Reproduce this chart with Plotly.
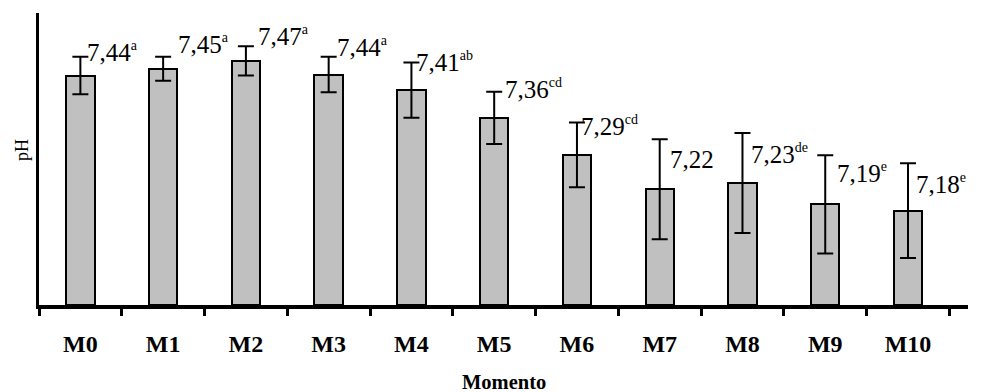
import plotly.graph_objects as go

categories = ["M0", "M1", "M2", "M3", "M4", "M5", "M6", "M7", "M8", "M9", "M10"]
ph_means = [7.440, 7.453, 7.468, 7.442, 7.412, 7.359, 7.288, 7.222, 7.234, 7.193, 7.181]
ph_sd = [0.036, 0.023, 0.028, 0.034, 0.053, 0.050, 0.062, 0.096, 0.096, 0.094, 0.091]
label_values = ["7,44", "7,45", "7,47", "7,44", "7,41", "7,36", "7,29", "7,22", "7,23", "7,19", "7,18"]
label_letters = ["a", "a", "a", "a", "ab", "cd", "cd", "", "de", "e", "e"]

# label placement (pixel offsets from top of error bar)
label_dx = [5, 13, 10, 6, 3, 9, 2, 8, 7, 10, 6]
label_dy = [5, 13, 10, 10, 1, 2.5, -3.7, -20.7, -21.3, -17.7, -21.2]

FONT = "Liberation Serif"

fig = go.Figure()
fig.add_trace(go.Bar(
    x=categories,
    y=[m - 7.0 for m in ph_means],
    base=7.0,
    width=0.343,
    marker=dict(color="#c0c0c0", line=dict(color="black", width=2)),
    error_y=dict(type="data", array=ph_sd, color="black", thickness=2, width=8),
    showlegend=False,
    hoverinfo="skip",
))

annotations = []
for c, m, s, v, l, dx, dy in zip(categories, ph_means, ph_sd, label_values, label_letters, label_dx, label_dy):
    txt = v + (f"<sup><span style='font-size:14px'>{l}</span></sup>" if l else "")
    annotations.append(dict(
        x=c, y=m + s, xref="x", yref="y", text=txt, showarrow=False,
        xanchor="left", yanchor="middle", xshift=dx, yshift=dy,
        font=dict(family=FONT, size=25, color="black"),
    ))

annotations.append(dict(
    x=0.5, y=-0.265, xref="paper", yref="paper", text="<b>Momento</b>",
    showarrow=False, xanchor="center", yanchor="middle",
    font=dict(family=FONT, size=20.5, color="black"),
))
annotations.append(dict(
    x=-0.0183, y=0.531, xref="paper", yref="paper", text="pH", textangle=-90,
    showarrow=False, xanchor="center", yanchor="middle",
    font=dict(family=FONT, size=18, color="black"),
))

fig.update_layout(
    width=984, height=392,
    margin=dict(l=39, r=16, t=13, b=87),
    paper_bgcolor="white", plot_bgcolor="white",
    annotations=annotations,
    bargap=0,
)
fig.update_xaxes(
    type="category", showline=True, linecolor="black", linewidth=4,
    ticks="outside", tickson="boundaries", ticklen=7, tickwidth=3, tickcolor="black",
    tickfont=dict(family=FONT, size=24, color="black"),
    ticklabelstandoff=14, showgrid=False, zeroline=False,
    tickprefix="<b>", ticksuffix="</b>",
)
fig.update_yaxes(
    range=[7.0, 7.56], showline=True, linecolor="black", linewidth=2.5,
    showticklabels=False, ticks="", showgrid=False, zeroline=False,
)

fig.write_html("out.html")
